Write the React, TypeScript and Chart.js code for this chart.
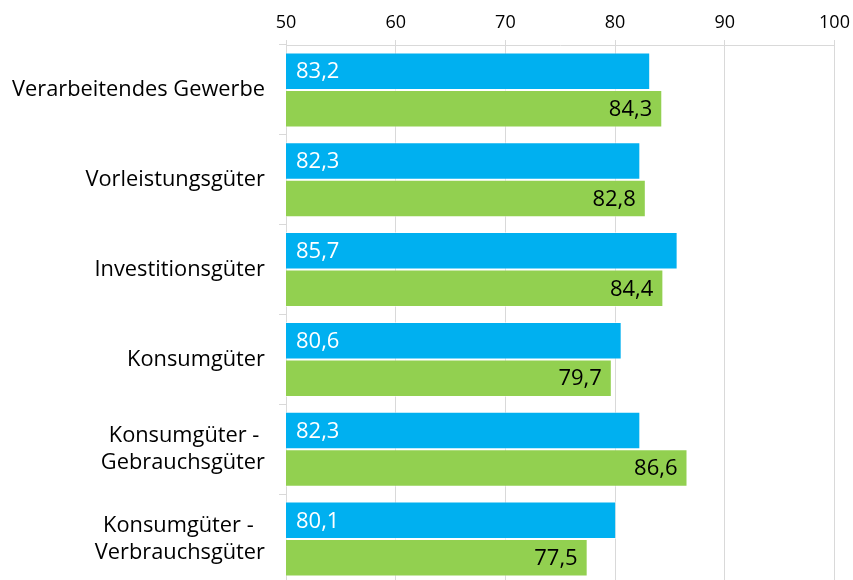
import React, { useEffect, useRef } from "react";
import { Chart, registerables } from "chart.js";

Chart.register(...registerables);

const categories: (string | string[])[] = [
  "Verarbeitendes Gewerbe",
  "Vorleistungsgüter",
  "Investitionsgüter",
  "Konsumgüter",
  ["Konsumgüter - ", "Gebrauchsgüter"],
  ["Konsumgüter -  ", "Verbrauchsgüter"],
];
const seriesBlue = [83.2, 82.3, 85.7, 80.6, 82.3, 80.1];
const seriesGreen = [84.3, 82.8, 84.4, 79.7, 86.6, 77.5];
const xTicks = [50, 60, 70, 80, 90, 100];

const FONT = "'Open Sans', 'Noto Sans', sans-serif";

const fmt = (v: number) => v.toFixed(1).replace(".", ",");

const labelPlugin = {
  id: "barValueLabels",
  afterDatasetsDraw(chart: any) {
    const ctx = chart.ctx;
    const left = chart.chartArea.left;
    ctx.save();
    ctx.font = `22px ${FONT}`;
    ctx.textBaseline = "middle";
    chart.data.datasets.forEach((ds: any, di: number) => {
      const meta = chart.getDatasetMeta(di);
      meta.data.forEach((el: any, i: number) => {
        const v = ds.data[i] as number;
        const x = el.x;
        const y = el.y;
        if (di === 0) {
          ctx.fillStyle = "#ffffff";
          ctx.textAlign = "left";
          ctx.fillText(fmt(v), left + 10, y + 1);
        } else {
          ctx.fillStyle = "#000000";
          ctx.textAlign = "right";
          ctx.fillText(fmt(v), x - 10, y + 1);
        }
      });
    });
    ctx.restore();
  },
};

export default function App() {
  const ref = useRef<HTMLCanvasElement | null>(null);
  useEffect(() => {
    document.body.style.margin = "0";
    document.body.style.overflow = "hidden";
    if (!ref.current) return;
    const chart = new Chart(ref.current, {
      type: "bar",
      data: {
        labels: categories,
        datasets: [
          {
            label: "A",
            data: seriesBlue,
            backgroundColor: "#00B0F0",
            borderColor: "rgba(255,255,255,0.55)",
            borderWidth: 1,
            categoryPercentage: 0.835,
            barPercentage: 1,
          },
          {
            label: "B",
            data: seriesGreen,
            backgroundColor: "#92D050",
            borderColor: "rgba(255,255,255,0.55)",
            borderWidth: 1,
            categoryPercentage: 0.835,
            barPercentage: 1,
          },
        ],
      },
      options: {
        indexAxis: "y",
        animation: false,
        responsive: false,
        layout: { padding: { top: 0, right: 18.5, bottom: 6, left: 0 } },
        plugins: {
          legend: { display: false },
          tooltip: { enabled: false },
        },
        scales: {
          x: {
            position: "top",
            min: 50,
            max: 100,
            afterBuildTicks: (scale: any) => {
              scale.ticks = xTicks.map((v) => ({ value: v }));
            },
            afterFit: (scale: any) => {
              scale.height = 45;
              scale.paddingLeft = 0;
              scale.paddingRight = 0;
            },
            grid: {
              color: "#d9d9d9",
              lineWidth: 1,
              tickLength: 5,
            },
            border: { display: true, color: "#d9d9d9" },
            ticks: {
              color: "#000",
              font: { family: FONT, size: 18 },
              padding: 6,
            },
          },
          y: {
            afterFit: (scale: any) => {
              scale.width = 286;
              scale.paddingTop = 0;
              scale.paddingBottom = 0;
            },
            grid: {
              drawOnChartArea: false,
              color: "#d9d9d9",
              tickLength: 7,
              offset: true,
            },
            border: { display: true, color: "#d9d9d9" },
            ticks: {
              color: "#000",
              font: { family: FONT, size: 21.8, lineHeight: 1.24 },
              padding: 14,
            },
          },
        },
      },
      plugins: [labelPlugin],
    } as any);
    return () => chart.destroy();
  }, []);
  return (
    <div style={{ position: "fixed", top: 0, left: 0, width: 853, height: 590 }}>
      <canvas ref={ref} width={853} height={590} style={{ display: "block" }} />
    </div>
  );
}
